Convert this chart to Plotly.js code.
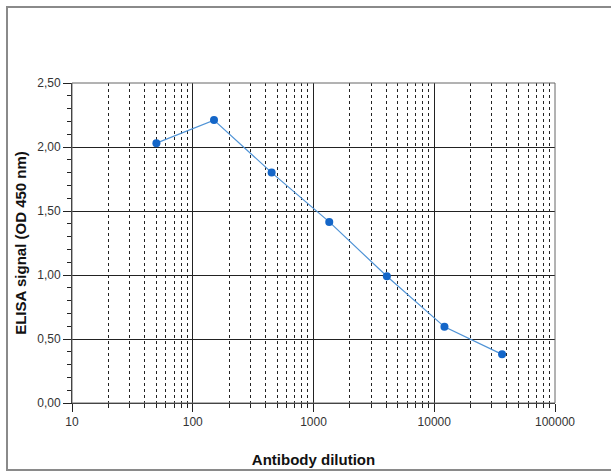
<!DOCTYPE html>
<html><head><meta charset="utf-8">
<script src="https://cdn.plot.ly/plotly-3.0.1.min.js"></script>
<style>
html,body{margin:0;padding:0;background:#fff;}
#frame{position:absolute;left:6px;top:6px;width:620px;height:465px;border:2px solid #8a8a8a;box-sizing:border-box;}
#chart{position:absolute;left:0;top:0;width:611px;height:474px;}
</style></head>
<body>
<div id="frame"></div>
<div id="chart"></div>
<script>
var dilution = [50, 150, 450, 1350, 4050, 12150, 36450];
var signal = [2.03, 2.21, 1.80, 1.415, 0.99, 0.595, 0.38];
var xTickVals = [10, 100, 1000, 10000, 100000];
var xTickText = ['10', '100', '1000', '10000', '100000'];
var xAxisTitle = 'Antibody dilution';
var yAxisTitle = 'ELISA signal (OD 450 nm)';

var trace = {
  x: dilution, y: signal, type: 'scatter', mode: 'lines+markers',
  line: {color: '#4f93d6', width: 1.2},
  marker: {color: '#1466c8', size: 8}
};
var layout = {
  width: 611, height: 474,
  paper_bgcolor: 'rgba(0,0,0,0)', plot_bgcolor: '#fff',
  margin: {l: 72, r: 56, t: 83, b: 71},
  separators: ', ',
  showlegend: false,
  font: {family: 'Liberation Sans, Arial, sans-serif', size: 12, color: '#333'},
  xaxis: {
    type: 'log', range: [1, 5],
    tickvals: xTickVals, ticktext: xTickText,
    showgrid: true, gridcolor: '#222', gridwidth: 1,
    ticks: 'outside', ticklen: 8, tickcolor: '#222',
    showline: true, linecolor: '#222', mirror: false,
    zeroline: false,
    tickfont: {size: 12, color: '#333'},
    minor: {dtick: 'D1', showgrid: true, gridcolor: '#222', griddash: 'dot', gridwidth: 1, ticks: 'outside', ticklen: 4, tickcolor: '#222'},
    title: {text: xAxisTitle, font: {size: 15, color: '#111', weight: 'bold'}, standoff: 26}
  },
  yaxis: {
    range: [0, 2.5], dtick: 0.5, tickformat: '.2f',
    showgrid: true, gridcolor: '#222', gridwidth: 1,
    ticks: 'outside', ticklen: 8, tickcolor: '#222',
    showline: true, linecolor: '#222',
    zeroline: false,
    tickfont: {size: 12, color: '#333'},
    minor: {dtick: 0.1, ticks: 'outside', ticklen: 4, tickcolor: '#222', showgrid: false},
    title: {text: yAxisTitle, font: {size: 15, color: '#111', weight: 'bold'}, standoff: 6}
  },
  shapes: [
    {type: 'rect', xref: 'paper', yref: 'paper', x0: 0, x1: 1, y0: 0, y1: 1, line: {color: '#666', width: 1}}
  ]
};
Plotly.newPlot('chart', [trace], layout, {displayModeBar: false, staticPlot: true});
</script>
</body></html>
